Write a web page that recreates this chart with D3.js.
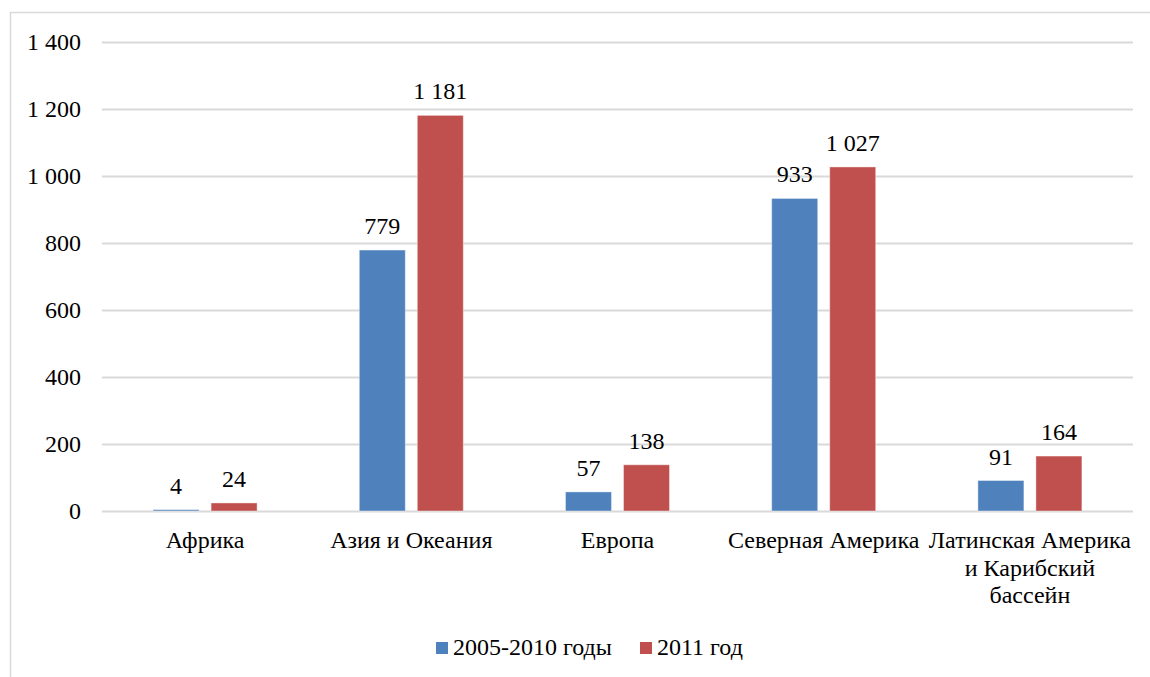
<!DOCTYPE html>
<html lang="ru">
<head>
  <meta charset="UTF-8">
  <title>Bar chart</title>
  <script src="https://d3js.org/d3.v7.min.js"></script>
  <style>
    html, body { margin: 0; padding: 0; background: #fff; }
  </style>
</head>
<body>
  <svg id="chart"></svg>
  <script>
    // data
    const categories = ['Африка', 'Азия и Океания', 'Европа', 'Северная Америка', 'Латинская Америка и Карибский бассейн'];
    const categoryLines = [['Африка'], ['Азия и Океания'], ['Европа'], ['Северная Америка'], ['Латинская Америка', 'и Карибский', 'бассейн']];
    const seriesNames = ['2005-2010 годы', '2011 год'];
    const values2005 = [4, 779, 57, 933, 91];
    const values2011 = [24, 1181, 138, 1027, 164];
    const yTicks = [0, 200, 400, 600, 800, 1000, 1200, 1400];
    const colors = ['#4F81BD', '#C0504D'];

    const width = 1150, height = 677;
    const margin = { top: 42, right: 17, bottom: 166, left: 102 };
    const font = "'Liberation Serif'";
    const fontSize = '24px';

    const svg = d3.select('#chart')
      .attr('width', width)
      .attr('height', height);

    // outer frame
    svg.append('rect')
      .attr('x', 10.5)
      .attr('y', 12.5)
      .attr('width', width + 10)
      .attr('height', height + 10)
      .attr('fill', 'none')
      .attr('stroke', '#d9d9d9')
      .attr('stroke-width', 1.5);

    const x0 = d3.scaleBand()
      .domain(categories)
      .range([margin.left, width - margin.right]);

    const half = 52;
    const x1 = d3.scaleBand()
      .domain(seriesNames)
      .range([x0.bandwidth() / 2 - half, x0.bandwidth() / 2 + half])
      .paddingInner(12 / 58);

    const y = d3.scaleLinear()
      .domain([0, 1400])
      .range([height - margin.bottom, margin.top]);

    const fmt = v => d3.format(',')(v).replace(/,/g, '\u00a0');

    // grid + y labels
    const yAxis = d3.axisLeft(y)
      .tickValues(yTicks)
      .tickSize(-(width - margin.left - margin.right))
      .tickPadding(21)
      .tickFormat(fmt);

    const gy = svg.append('g')
      .attr('transform', `translate(${margin.left},0)`)
      .call(yAxis);
    gy.select('.domain').remove();
    gy.selectAll('.tick line')
      .attr('stroke', '#d9d9d9')
      .attr('stroke-width', 2);
    gy.selectAll('.tick text')
      .attr('fill', '#000')
      .style('font-family', font)
      .style('font-size', fontSize);

    const seriesData = [values2005, values2011];

    // bars
    const groups = svg.append('g')
      .selectAll('g')
      .data(categories)
      .enter()
      .append('g')
      .attr('transform', d => `translate(${x0(d)},0)`);

    groups.selectAll('rect')
      .data((d, i) => seriesNames.map((s, j) => ({ s, j, v: seriesData[j][i] })))
      .enter()
      .append('rect')
      .attr('x', d => x1(d.s))
      .attr('width', x1.bandwidth())
      .attr('y', d => y(d.v))
      .attr('height', d => y(0) - y(d.v))
      .attr('fill', d => colors[d.j])
      .attr('stroke', '#fff')
      .attr('stroke-opacity', 0.4)
      .attr('stroke-width', 1);

    groups.selectAll('text.value')
      .data((d, i) => seriesNames.map((s, j) => ({ s, j, v: seriesData[j][i] })))
      .enter()
      .append('text')
      .attr('class', 'value')
      .attr('x', d => x1(d.s) + x1.bandwidth() / 2)
      .attr('y', d => y(d.v) - 16)
      .attr('text-anchor', 'middle')
      .style('font-family', font)
      .style('font-size', fontSize)
      .text(d => fmt(d.v));

    // category labels
    const catLabels = svg.append('g')
      .selectAll('text')
      .data(categories)
      .enter()
      .append('text')
      .attr('x', d => x0(d) + x0.bandwidth() / 2)
      .attr('y', 548)
      .attr('text-anchor', 'middle')
      .style('font-family', font)
      .style('font-size', fontSize);

    catLabels.each(function (d, i) {
      d3.select(this).selectAll('tspan')
        .data(categoryLines[i])
        .enter()
        .append('tspan')
        .attr('x', x0(d) + x0.bandwidth() / 2)
        .attr('dy', (t, k) => k === 0 ? 0 : 27.5)
        .text(t => t);
    });

    // legend
    const legendX = [436, 640];
    const legend = svg.append('g')
      .selectAll('g')
      .data(seriesNames)
      .enter()
      .append('g')
      .attr('transform', (d, i) => `translate(${legendX[i]},642)`);

    legend.append('rect')
      .attr('width', 12)
      .attr('height', 12)
      .attr('fill', (d, i) => colors[i]);

    legend.append('text')
      .attr('x', 17)
      .attr('y', 13)
      .style('font-family', font)
      .style('font-size', fontSize)
      .text(d => d);
  </script>
</body>
</html>
